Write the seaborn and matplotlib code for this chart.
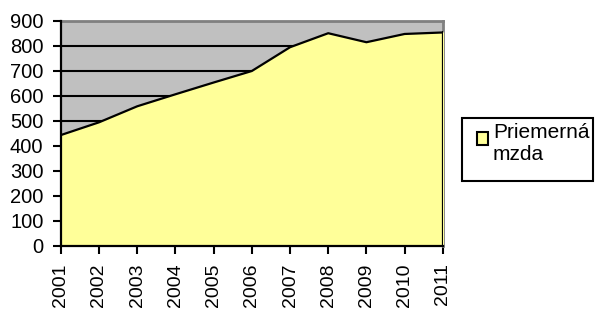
import numpy as np
import pandas as pd
import seaborn as sns
import matplotlib.pyplot as plt
from matplotlib.patches import Patch, Rectangle
from matplotlib.legend_handler import HandlerPatch

# average wage per year
roky = [2001, 2002, 2003, 2004, 2005, 2006, 2007, 2008, 2009, 2010, 2011]
mzda = [443, 494, 558, 606, 653, 699, 794, 850, 814, 847, 853]
yticks = [0, 100, 200, 300, 400, 500, 600, 700, 800, 900]

df = pd.DataFrame({'rok': roky, 'mzda': mzda})

sns.set_style('white')
plt.rcParams['font.family'] = ['Liberation Sans', 'DejaVu Sans']
plt.rcParams['text.color'] = 'black'


class TopSquare(HandlerPatch):
    # square aligned to the first text line instead of centered
    def __init__(self, dy=0, **kw):
        super().__init__(**kw)
        self.dy = dy

    def create_artists(self, legend, orig_handle, xdescent, ydescent, width, height, fontsize, trans):
        p = Rectangle((-xdescent, -ydescent + self.dy), width, height,
                      facecolor=orig_handle.get_facecolor(), edgecolor='black', linewidth=1.5,
                      transform=trans)
        return [p]


fig = plt.figure(figsize=(5.96, 3.09), dpi=100)
ax = fig.add_axes([0.102, 0.204, 0.641, 0.729])
ax.set_facecolor('#C0C0C0')

ax.fill_between(df['rok'], 0, df['mzda'], color='#FFFF99', zorder=2)
sns.lineplot(data=df, x='rok', y='mzda', color='black', linewidth=1.6, ax=ax, zorder=3)
ax.plot([roky[-1], roky[-1]], [0, mzda[-1]], color='black', linewidth=1.6, zorder=3)

for v in yticks[1:]:
    ax.axhline(v, color='black', linewidth=1.5, zorder=1)

ax.set_xlim(roky[0], roky[-1])
ax.set_ylim(0, 900)
ax.set_xticks(roky)
ax.set_xticklabels([str(r) for r in roky], rotation=90)
ax.set_yticks(yticks)
ax.tick_params(axis='both', labelcolor='black', length=6, width=1.5, color='black',
               direction='out', bottom=True, left=True, pad=6.5)
ax.tick_params(axis='x', labelsize=14)
ax.tick_params(axis='y', labelsize=14.5)
ax.set_xlabel('')
ax.set_ylabel('')

for s in ['left', 'bottom']:
    ax.spines[s].set_color('black')
    ax.spines[s].set_linewidth(1.6)
for s in ['top', 'right']:
    ax.spines[s].set_color('#808080')
    ax.spines[s].set_linewidth(2)
    ax.spines[s].set_zorder(1.5)

# legend frame
fig.patches.append(Rectangle((0.775, 0.414), 0.220, 0.204, transform=fig.transFigure,
                             facecolor='white', edgecolor='black', linewidth=1.5, zorder=0))

sq = Patch(facecolor='#FFFF99', edgecolor='black', label='Priemerná\nmzda')
leg = fig.legend(handles=[sq], loc='upper left', bbox_to_anchor=(0.800, 0.601), fontsize=15,
                 frameon=False, handlelength=0.53, handleheight=0.53, handletextpad=0.24,
                 borderpad=0, borderaxespad=0, handler_map={Patch: TopSquare(dy=3.8)})
for t in leg.get_texts():
    t.set_color('black')

fig.savefig('out.png', dpi=100)
